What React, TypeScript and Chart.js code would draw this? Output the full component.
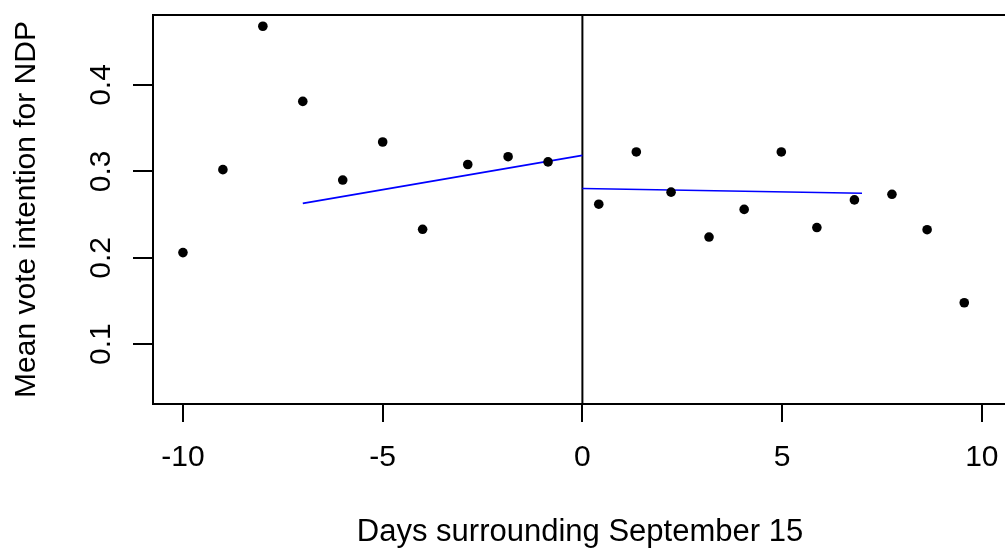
import React, { useEffect, useRef } from 'react';
import { Chart, registerables } from 'chart.js';

Chart.register(...registerables);

// Days relative to September 15 and mean NDP vote intention
const daysBefore = [-10, -9, -8, -7, -6, -5, -4, -2.87, -1.86, -0.86];
const voteBefore = [0.206, 0.302, 0.468, 0.381, 0.290, 0.334, 0.233, 0.308, 0.317, 0.311];
const daysAfter = [0.41, 1.35, 2.22, 3.17, 4.05, 4.98, 5.87, 6.81, 7.75, 8.63, 9.56];
const voteAfter = [0.262, 0.3225, 0.276, 0.224, 0.256, 0.3225, 0.235, 0.267, 0.2735, 0.2325, 0.148];

// Fitted lines on each side of the cutoff
const fitBeforeX = [-7, 0];
const fitBeforeY = [0.263, 0.3186];
const fitAfterX = [0, 7];
const fitAfterY = [0.2802, 0.2747];

// Cutoff line
const cutoffX = [0, 0];
const cutoffY = [-1, 1];

const xTicks = [-10, -5, 0, 5, 10];
const yTicks = [0.1, 0.2, 0.3, 0.4];
const xLabel = 'Days surrounding September 15';
const yLabel = 'Mean vote intention for NDP';

const X_MIN = -10.75;
const X_MAX = 10.58;
const Y_MIN = 0.0308;
const Y_MAX = 0.481;

const FONT = '"Liberation Sans", Arial, sans-serif';

const toPoints = (xs: number[], ys: number[]) => xs.map((x, i) => ({ x, y: ys[i] }));

const framePlugin = {
  id: 'frame',
  afterDraw(chart: any) {
    const { ctx, chartArea, scales } = chart;
    ctx.save();
    ctx.strokeStyle = '#000';
    ctx.lineWidth = 2;
    ctx.beginPath();
    ctx.moveTo(chartArea.left - 1, chartArea.top);
    ctx.lineTo(chartArea.right + 2, chartArea.top);
    ctx.stroke();

    ctx.fillStyle = '#000';
    ctx.font = `30px ${FONT}`;
    ctx.textAlign = 'center';
    ctx.textBaseline = 'alphabetic';
    yTicks.forEach((v) => {
      const py = scales.y.getPixelForValue(v);
      ctx.save();
      ctx.translate(110, py);
      ctx.rotate(-Math.PI / 2);
      ctx.fillText(v.toFixed(1), 0, 0);
      ctx.restore();
    });

    ctx.save();
    ctx.translate(35, (chartArea.top + chartArea.bottom) / 2);
    ctx.rotate(-Math.PI / 2);
    ctx.fillText(yLabel, 0, 0);
    ctx.restore();

    ctx.font = `31px ${FONT}`;
    ctx.fillText(xLabel, 580, 540.5);
    ctx.restore();
  },
};

export default function App() {
  const ref = useRef<HTMLCanvasElement | null>(null);

  useEffect(() => {
    if (!ref.current) return;
    const chart = new Chart(ref.current, {
      type: 'scatter',
      data: {
        datasets: [
          {
            type: 'scatter',
            data: toPoints(daysBefore, voteBefore),
            backgroundColor: '#000',
            borderColor: '#000',
            borderWidth: 0,
            pointRadius: 4.8,
          },
          {
            type: 'scatter',
            data: toPoints(daysAfter, voteAfter),
            backgroundColor: '#000',
            borderColor: '#000',
            borderWidth: 0,
            pointRadius: 4.8,
          },
          {
            type: 'line',
            data: toPoints(fitBeforeX, fitBeforeY),
            borderColor: '#0000ff',
            borderWidth: 1.7,
            pointRadius: 0,
            fill: false,
          },
          {
            type: 'line',
            data: toPoints(fitAfterX, fitAfterY),
            borderColor: '#0000ff',
            borderWidth: 1.7,
            pointRadius: 0,
            fill: false,
          },
          {
            type: 'line',
            data: toPoints(cutoffX, cutoffY),
            borderColor: '#000',
            borderWidth: 2,
            pointRadius: 0,
            fill: false,
          },
        ],
      } as any,
      options: {
        animation: false,
        responsive: false,
        events: [],
        layout: { autoPadding: false, padding: { top: 15, left: 0, right: 0, bottom: 0 } },
        plugins: { legend: { display: false }, tooltip: { enabled: false } },
        scales: {
          x: {
            type: 'linear',
            min: X_MIN,
            max: X_MAX,
            afterBuildTicks: (s: any) => {
              s.ticks = xTicks.map((v) => ({ value: v }));
            },
            afterFit: (s: any) => {
              s.height = 144;
              s.paddingLeft = 0;
              s.paddingRight = 0;
            },
            grid: { drawOnChartArea: false, drawTicks: true, tickLength: 18, color: '#000', lineWidth: 2 },
            border: { display: true, color: '#000', width: 2 },
            ticks: {
              color: '#000',
              font: { family: FONT, size: 30 },
              padding: 18,
              maxRotation: 0,
              minRotation: 0,
              autoSkip: false,
              callback: (v: any) => String(v),
            },
          },
          y: {
            type: 'linear',
            min: Y_MIN,
            max: Y_MAX,
            afterBuildTicks: (s: any) => {
              s.ticks = yTicks.map((v) => ({ value: v }));
            },
            afterFit: (s: any) => {
              s.width = 153;
              s.paddingTop = 0;
              s.paddingBottom = 0;
            },
            grid: { drawOnChartArea: false, drawTicks: true, tickLength: 20, color: '#000', lineWidth: 2 },
            border: { display: true, color: '#000', width: 2 },
            ticks: { display: false },
          },
        },
      } as any,
      plugins: [framePlugin],
    });
    return () => chart.destroy();
  }, []);

  return (
    <div style={{ position: 'fixed', left: 0, top: 0, width: 1005, height: 548, background: '#fff' }}>
      <canvas ref={ref} width={1005} height={548} style={{ display: 'block' }} />
    </div>
  );
}
